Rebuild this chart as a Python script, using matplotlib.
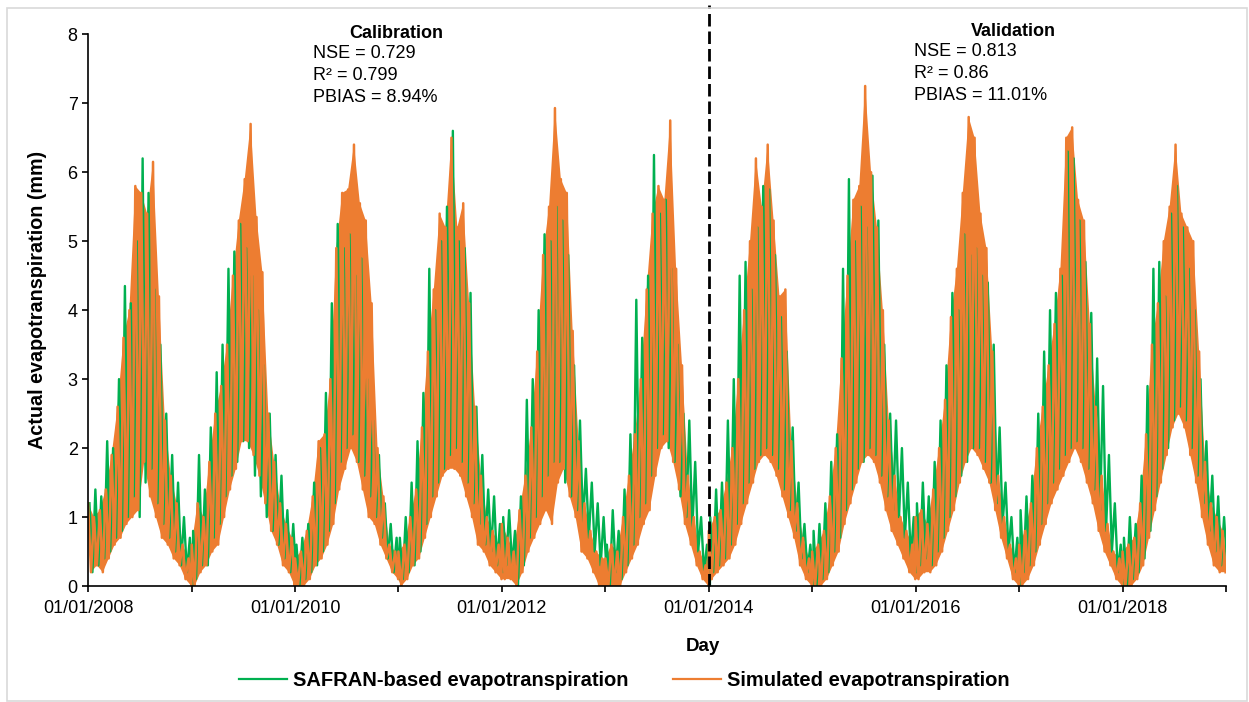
import numpy as np
import pandas as pd
import matplotlib
matplotlib.use("Agg")
from matplotlib import pyplot as plt
import matplotlib.dates as mdates
from matplotlib.patches import Rectangle

plt.rcParams["font.family"] = ["Liberation Sans", "DejaVu Sans"]

years = list(range(2008, 2019))
split_date = "2014-01-01"

# values, ~10 day steps, alternating upper/lower readings
safran = [
    # 2008
    1.2, 0.2, 1.4, 0.3, 1.3, 0.4, 2.1, 0.5, 2.0, 0.7, 3.0, 0.8, 4.35, 1.0, 4.1, 1.3, 5.0, 1.0,
    6.2, 1.5, 5.7, 1.7, 4.3, 1.2, 3.5, 0.9, 2.5, 0.7, 1.9, 0.5, 1.5, 0.3, 1.0, 0.2, 0.7, 0.0,
    # 2009
    0.8, 0.1, 1.9, 0.3, 1.4, 0.3, 2.3, 0.7, 3.1, 0.9, 3.5, 1.3, 4.6, 1.6, 4.85, 1.8, 5.25, 2.1,
    4.9, 2.0, 4.5, 1.6, 4.0, 1.3, 3.2, 1.0, 2.5, 0.8, 1.9, 0.6, 1.6, 0.4, 1.1, 0.2, 0.9, 0.1,
    # 2010
    0.6, 0.0, 0.7, 0.1, 0.9, 0.2, 1.5, 0.3, 2.0, 0.5, 2.8, 0.8, 4.1, 1.2, 5.25, 1.8, 4.9, 2.0,
    5.1, 2.2, 4.5, 1.8, 4.75, 1.6, 3.0, 1.3, 2.4, 1.0, 1.9, 0.7, 1.2, 0.4, 0.9, 0.2, 0.7, 0.1,
    # 2011
    0.7, 0.1, 1.0, 0.2, 1.5, 0.3, 2.1, 0.5, 2.8, 0.9, 4.6, 1.3, 4.0, 1.5, 5.0, 1.7, 5.5, 1.9,
    6.6, 2.0, 5.0, 1.8, 4.9, 1.5, 4.25, 1.2, 2.6, 0.9, 1.9, 0.6, 1.4, 0.5, 1.3, 0.3, 0.9, 0.2,
    # 2012
    1.0, 0.3, 1.1, 0.3, 0.8, 0.0, 1.3, 0.3, 2.7, 0.7, 3.0, 1.0, 4.0, 1.3, 5.1, 1.6, 5.0, 1.8,
    5.5, 1.8, 5.3, 1.5, 4.8, 1.3, 3.2, 1.1, 2.4, 0.9, 1.7, 0.7, 1.5, 0.5, 1.2, 0.3, 1.0, 0.2,
    # 2013
    0.6, 0.0, 1.1, 0.2, 0.8, 0.1, 1.4, 0.3, 2.2, 0.6, 4.15, 1.0, 3.6, 1.2, 4.5, 1.6, 6.25, 2.0,
    5.4, 2.2, 5.6, 2.0, 4.6, 1.8, 3.5, 1.3, 2.5, 1.0, 2.4, 0.8, 1.8, 0.5, 1.0, 0.2, 0.6, 0.0,
    # 2014
    1.0, 0.2, 1.4, 0.3, 1.5, 0.4, 2.4, 0.6, 3.0, 0.9, 4.5, 1.2, 4.7, 1.5, 4.3, 1.7, 5.2, 1.9,
    5.8, 2.0, 5.75, 1.9, 4.8, 1.7, 3.9, 1.4, 3.4, 1.1, 2.3, 0.8, 1.5, 0.4, 0.9, 0.2, 0.6, 0.0,
    # 2015
    0.8, 0.0, 0.9, 0.1, 1.2, 0.2, 1.8, 0.5, 2.2, 0.7, 4.6, 1.1, 5.9, 1.4, 5.0, 1.7, 5.5, 1.8,
    5.2, 2.0, 5.95, 1.9, 5.3, 1.6, 3.5, 1.3, 2.5, 1.1, 2.4, 1.0, 2.0, 0.7, 1.5, 0.4, 1.0, 0.2,
    # 2016
    1.2, 0.3, 1.5, 0.4, 1.3, 0.3, 1.8, 0.5, 2.4, 0.7, 3.2, 1.0, 4.25, 1.3, 4.0, 1.6, 5.1, 1.8,
    4.8, 2.0, 4.9, 2.0, 4.5, 1.8, 4.4, 1.5, 3.5, 1.2, 2.3, 0.9, 1.5, 0.5, 1.0, 0.2, 0.7, 0.0,
    # 2017
    1.1, 0.2, 1.3, 0.3, 1.6, 0.5, 2.5, 0.9, 3.4, 1.2, 4.0, 1.5, 4.25, 1.7, 4.5, 1.9, 6.3, 2.0,
    6.2, 2.1, 5.3, 2.0, 4.7, 1.7, 3.96, 1.4, 3.3, 1.1, 2.9, 0.8, 1.9, 0.5, 1.2, 0.2, 0.6, 0.0,
    # 2018
    0.7, 0.0, 1.0, 0.1, 0.9, 0.2, 1.6, 0.4, 2.9, 0.8, 4.6, 1.3, 4.7, 1.7, 4.2, 2.0, 5.4, 2.4,
    5.8, 2.6, 5.2, 2.4, 4.6, 2.0, 4.0, 1.6, 3.0, 1.2, 2.1, 0.8, 1.6, 0.5, 1.3, 0.3, 1.0, 0.3,
]

simulated = [
    # 2008
    1.2, 0.2, 1.0, 0.3, 1.1, 0.2, 1.4, 0.4, 1.9, 0.6, 2.6, 0.7, 3.6, 0.9, 4.0, 1.0, 5.8, 1.1,
    5.7, 1.8, 5.4, 1.3, 6.15, 1.0, 4.2, 0.7, 2.4, 0.6, 1.6, 0.4, 1.2, 0.3, 0.6, 0.1, 0.4, 0.0,
    # 2009
    0.6, 0.0, 1.2, 0.2, 1.0, 0.3, 1.8, 0.5, 2.5, 0.6, 2.9, 1.0, 3.5, 1.4, 4.5, 1.7, 5.3, 2.1,
    5.9, 2.1, 6.7, 1.9, 5.35, 1.6, 4.55, 1.2, 2.5, 0.8, 1.8, 0.6, 1.2, 0.3, 0.9, 0.2, 0.7, 0.0,
    # 2010
    0.4, 0.0, 0.5, 0.0, 0.8, 0.1, 1.3, 0.3, 2.1, 0.4, 2.2, 0.6, 3.0, 0.9, 4.9, 1.4, 5.7, 1.7,
    5.75, 2.0, 6.4, 1.8, 5.55, 1.4, 5.3, 1.0, 4.1, 0.9, 2.0, 0.6, 1.3, 0.4, 0.6, 0.2, 0.5, 0.1,
    # 2011
    0.5, 0.0, 0.6, 0.1, 1.0, 0.3, 1.4, 0.4, 2.3, 0.7, 3.4, 1.0, 4.3, 1.3, 5.4, 1.6, 5.2, 1.7,
    6.5, 1.7, 5.2, 1.6, 5.55, 1.3, 4.1, 1.0, 2.6, 0.6, 1.6, 0.5, 1.0, 0.3, 0.8, 0.2, 0.6, 0.1,
    # 2012
    0.9, 0.1, 0.7, 0.1, 0.5, 0.0, 1.1, 0.2, 1.6, 0.5, 2.3, 0.7, 3.4, 0.9, 4.8, 1.1, 5.5, 0.9,
    6.93, 1.5, 5.9, 1.7, 5.7, 1.3, 3.7, 1.0, 2.1, 0.5, 1.2, 0.4, 0.8, 0.2, 0.5, 0.0, 0.4, 0.0,
    # 2013
    0.4, 0.0, 0.6, 0.0, 0.5, 0.0, 1.0, 0.2, 1.6, 0.4, 2.2, 0.6, 3.0, 0.9, 4.3, 1.1, 5.4, 1.6,
    5.8, 2.0, 5.6, 2.1, 6.75, 1.8, 4.6, 1.4, 3.2, 0.9, 1.6, 0.6, 1.0, 0.3, 0.5, 0.1, 0.3, 0.0,
    # 2014
    0.8, 0.1, 1.0, 0.2, 1.1, 0.3, 1.5, 0.4, 2.0, 0.6, 3.0, 0.9, 4.0, 1.2, 5.0, 1.5, 6.2, 1.8,
    5.5, 1.9, 6.4, 1.8, 5.3, 1.6, 4.2, 1.3, 4.3, 1.0, 2.1, 0.7, 1.2, 0.3, 0.7, 0.1, 0.4, 0.0,
    # 2015
    0.5, 0.0, 0.6, 0.0, 0.8, 0.1, 1.3, 0.3, 2.0, 0.5, 3.3, 0.9, 4.5, 1.2, 5.6, 1.5, 5.8, 1.8,
    7.25, 1.9, 6.0, 1.8, 5.2, 1.5, 4.0, 1.1, 2.4, 0.8, 1.6, 0.6, 1.0, 0.4, 0.8, 0.2, 0.6, 0.1,
    # 2016
    1.0, 0.1, 1.1, 0.2, 0.9, 0.2, 1.4, 0.3, 2.0, 0.5, 2.7, 0.8, 3.9, 1.1, 4.6, 1.5, 5.7, 1.8,
    6.8, 2.0, 6.5, 1.9, 5.4, 1.7, 4.9, 1.5, 3.4, 1.1, 1.6, 0.7, 1.0, 0.4, 0.6, 0.1, 0.4, 0.0,
    # 2017
    0.6, 0.0, 0.8, 0.1, 1.2, 0.3, 2.0, 0.6, 2.6, 0.9, 3.2, 1.2, 3.8, 1.4, 4.6, 1.6, 6.5, 1.8,
    6.65, 2.0, 5.6, 1.8, 5.3, 1.5, 3.8, 1.2, 2.6, 0.8, 1.6, 0.5, 0.9, 0.3, 0.5, 0.1, 0.4, 0.0,
    # 2018
    0.5, 0.0, 0.6, 0.0, 0.7, 0.1, 1.2, 0.3, 2.2, 0.7, 3.5, 1.1, 4.1, 1.5, 5.0, 1.9, 5.5, 2.3,
    6.4, 2.5, 5.4, 2.3, 5.2, 1.9, 5.0, 1.5, 3.4, 1.0, 1.8, 0.6, 1.2, 0.3, 1.0, 0.2, 0.8, 0.2,
]

cal_stats = ["NSE = 0.729", "R² = 0.799", "PBIAS = 8.94%"]
val_stats = ["NSE = 0.813", "R² = 0.86", "PBIAS = 11.01%"]

# 36 readings per year spread over the calendar year
dates = pd.DatetimeIndex(np.concatenate([
    pd.date_range(f"{y}-01-01", f"{y}-12-31", periods=36).values for y in years
]))

fig = plt.figure(figsize=(12.49, 7.02), dpi=100)
ax = fig.add_axes([0.0705, 0.1652, 0.911, 0.786])

# green readings as a plain line, underneath
ax.plot(dates + pd.Timedelta(days=5), safran, color="#00b050", lw=1.7,
        label="SAFRAN-based evapotranspiration")

# simulated series: the daily line is too dense to read day by day, so shade
# between its upper and lower readings and draw the readings on top
sim = np.asarray(simulated)
xn = mdates.date2num(dates)
ax.fill(np.r_[xn[0::2], xn[1::2][::-1]], np.r_[sim[0::2], sim[1::2][::-1]],
        color="#ed7d31", lw=0)
ax.plot(dates, simulated, color="#ed7d31", lw=1.8, label="Simulated evapotranspiration")

ax.axvline(pd.Timestamp(split_date), ymin=0, ymax=8.42 / 8, color="black",
           lw=2, ls=(0, (4.5, 1.8)), clip_on=False)

ax.set_xlim(pd.Timestamp("2008-01-01"), pd.Timestamp("2019-01-01"))
ax.set_ylim(0, 8)
ax.set_yticks(range(0, 9))
ax.xaxis.set_major_locator(mdates.YearLocator(2))
ax.xaxis.set_minor_locator(mdates.YearLocator(1))
ax.xaxis.set_major_formatter(mdates.DateFormatter("%d/%m/%Y"))
ax.tick_params(axis="both", which="both", direction="out", length=4,
               width=1.2, labelsize=13, colors="black")
ax.tick_params(axis="x", pad=6)
ax.spines["top"].set_visible(False)
ax.spines["right"].set_visible(False)
ax.spines["left"].set_linewidth(1.2)
ax.spines["bottom"].set_linewidth(1.2)

ax.set_xlabel("Day", fontsize=13.5, fontweight="bold")
ax.set_ylabel("Actual evapotranspiration (mm)", fontsize=14.2, fontweight="bold")
ax.xaxis.set_label_coords(0.540, -0.094)
ax.yaxis.set_label_coords(-0.036, 0.518)

fig.text(396 / 1249, 1 - 33 / 702, "Calibration", ha="center", va="center",
         fontsize=13, fontweight="bold")
for i, s in enumerate(cal_stats):
    fig.text(313 / 1249, 1 - (53 + 22 * i) / 702, s, ha="left", va="center", fontsize=13)
fig.text(1013 / 1249, 1 - 31 / 702, "Validation", ha="center", va="center",
         fontsize=13, fontweight="bold")
for i, s in enumerate(val_stats):
    fig.text(914 / 1249, 1 - (51 + 22 * i) / 702, s, ha="left", va="center", fontsize=13)

leg = fig.legend(loc="center", bbox_to_anchor=(0.5, 1 - 681 / 702), ncol=2,
                 frameon=False, fontsize=14.5, handlelength=2.4, columnspacing=2.2,
                 handletextpad=0.3)
for t in leg.get_texts():
    t.set_fontweight("bold")
for h in leg.get_lines():
    h.set_linewidth(1.6)

fig.patches.append(Rectangle((7 / 1249, 0.002), 1 - 9 / 1249, 1 - 8 / 702 - 0.002,
                             transform=fig.transFigure, fill=False,
                             edgecolor="#d9d9d9", lw=1.2))

fig.savefig("out.png", dpi=100)
